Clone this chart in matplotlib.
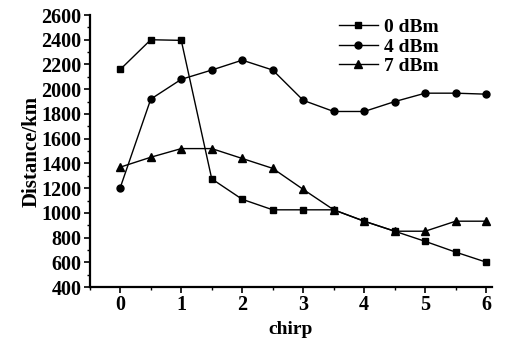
import matplotlib
matplotlib.use("Agg")
import matplotlib.pyplot as plt
from matplotlib.ticker import MultipleLocator

# chirp values and distances
chirp = [0, 0.5, 1, 1.5, 2, 2.5, 3, 3.5, 4, 4.5, 5, 5.5, 6]
dist_0dbm = [2160, 2400, 2395, 1275, 1110, 1025, 1025, 1025, 933, 852, 770, 683, 602]
dist_4dbm = [1205, 1920, 2080, 2155, 2235, 2155, 1910, 1820, 1820, 1900, 1968, 1968, 1960]
dist_7dbm = [1370, 1450, 1520, 1520, 1440, 1360, 1190, 1025, 933, 852, 852, 933, 933]

plt.rcParams['font.family'] = ['Liberation Serif', 'DejaVu Serif']
plt.rcParams['font.weight'] = 'bold'

fig = plt.figure(figsize=(5.16, 3.41), dpi=100)
ax = fig.add_axes([0.174, 0.158, 0.78, 0.798])

ax.plot(chirp, dist_0dbm, '-', color='black', lw=1.0, marker='s', ms=5, label='0 dBm')
ax.plot(chirp, dist_4dbm, '-', color='black', lw=1.0, marker='o', ms=5, label='4 dBm')
ax.plot(chirp, dist_7dbm, '-', color='black', lw=1.0, marker='^', ms=5.5, label='7 dBm')

ax.set_xlim(-0.5, 6.1)
ax.set_ylim(400, 2600)
ax.xaxis.set_major_locator(MultipleLocator(1))
ax.xaxis.set_minor_locator(MultipleLocator(0.5))
ax.yaxis.set_major_locator(MultipleLocator(200))
ax.yaxis.set_minor_locator(MultipleLocator(100))

ax.spines['top'].set_visible(False)
ax.spines['right'].set_visible(False)
ax.spines['left'].set_linewidth(1.6)
ax.spines['bottom'].set_linewidth(1.6)

ax.tick_params(axis='both', which='major', direction='out', length=4, width=1.2,
               labelsize=14.5, pad=2)
ax.tick_params(axis='both', which='minor', direction='out', length=2, width=1)
for lbl in ax.get_xticklabels() + ax.get_yticklabels():
    lbl.set_fontweight('bold')

ax.set_xlabel('chirp', fontsize=14, fontweight='bold', labelpad=4)
ax.set_ylabel('Distance/km', fontsize=15, fontweight='bold', labelpad=0)

leg = ax.legend(loc='upper left', bbox_to_anchor=(0.59, 1.03), frameon=False,
                fontsize=14, handlelength=2.0, handletextpad=0.3,
                labelspacing=0.1, borderaxespad=0.2)

fig.savefig('out.png', dpi=100)
